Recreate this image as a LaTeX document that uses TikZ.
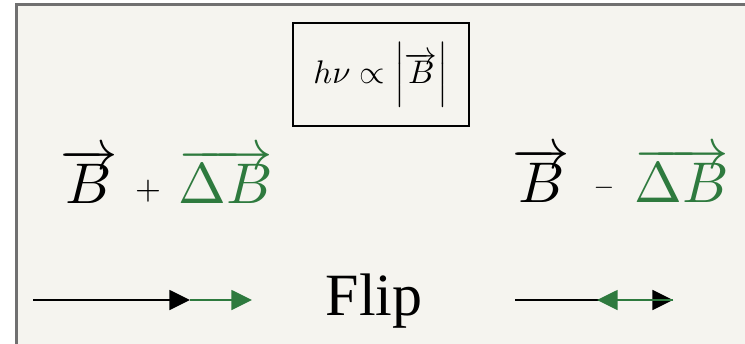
\documentclass[tikz,border=0pt]{standalone}
\usepackage{graphicx}
\usepackage{fontspec}
\newfontfamily\flipfont{Liberation Serif}
\usetikzlibrary{arrows.meta}
\definecolor{dgreen}{RGB}{46,122,62}
\definecolor{paper}{RGB}{245,244,239}
\definecolor{framegray}{RGB}{112,112,112}
\newcommand{\bigsym}[1]{\scalebox{4.3}{$#1$}}
\newcommand{\opsym}[2]{\scalebox{#1}{$#2$}}
\newcommand{\tallbar}{\mathord{\scalebox{1}[1.1]{$\Big|$}}}
\tikzset{
  bigmath/.style={inner sep=0pt, anchor=base},
  opmath/.style={inner sep=0pt},
  fliptext/.style={font=\flipfont\fontsize{45}{54}\selectfont, inner sep=0pt, anchor=base},
  eqbox/.style={draw=black, line width=1.1pt, minimum width=132pt, minimum height=77pt,
    inner sep=0pt},
  tip/.style={-{Triangle[length=15.5pt,width=15pt]}},
  blackvec/.style={tip, draw=black, fill=black, line width=1.2pt},
  greenvec/.style={tip, draw=dgreen, fill=dgreen, line width=1.2pt},
}
\begin{document}
\begin{tikzpicture}[x=0.75pt,y=-0.75pt]
\useasboundingbox (0,0) rectangle (745,343);
\fill[white] (0,0) rectangle (745,343);
\begin{scope}
  \clip (0,0) rectangle (745,343);
  \draw[framegray, line width=2.2pt, fill=paper] (16.5,4.5) rectangle (800,400);
\end{scope}

% boxed formula
\node[eqbox] (eq) at (381,74.5) {\scalebox{2.45}{$h\nu \propto \mathopen{\tallbar}\overrightarrow{B}\mathclose{\tallbar}$}};

% left expression
\node[bigmath] (b1) at (89,203) {\bigsym{\overrightarrow{B}}};
\node[opmath] (plus) at (148,191) {\opsym{2.5}{+}};
\node[bigmath, text=dgreen] (db1) at (226,203) {\bigsym{\overrightarrow{\Delta B}}};

% right expression
\node[bigmath] (b2) at (541.5,202) {\bigsym{\overrightarrow{B}}};
\node[opmath] (minus) at (604,188) {\opsym{2.0}{-}};
\node[bigmath, text=dgreen] (db2) at (682,202) {\bigsym{\overrightarrow{\Delta B}}};

% flip label
\node[fliptext] (flip) at (374,315) {Flip};

% left arrows
\coordinate (l0) at (33,300);
\coordinate (l1) at (190,300);
\coordinate (l2) at (252,300);
\draw[blackvec] (l0) -- (l1);
\draw[greenvec] (l1) -- (l2);

% right arrows
\coordinate (r0) at (515,300);
\coordinate (r1) at (673,300);
\coordinate (r2) at (597,300);
\draw[blackvec] (r0) -- (r1);
\draw[greenvec] (r1) -- (r2);
\end{tikzpicture}
\end{document}
